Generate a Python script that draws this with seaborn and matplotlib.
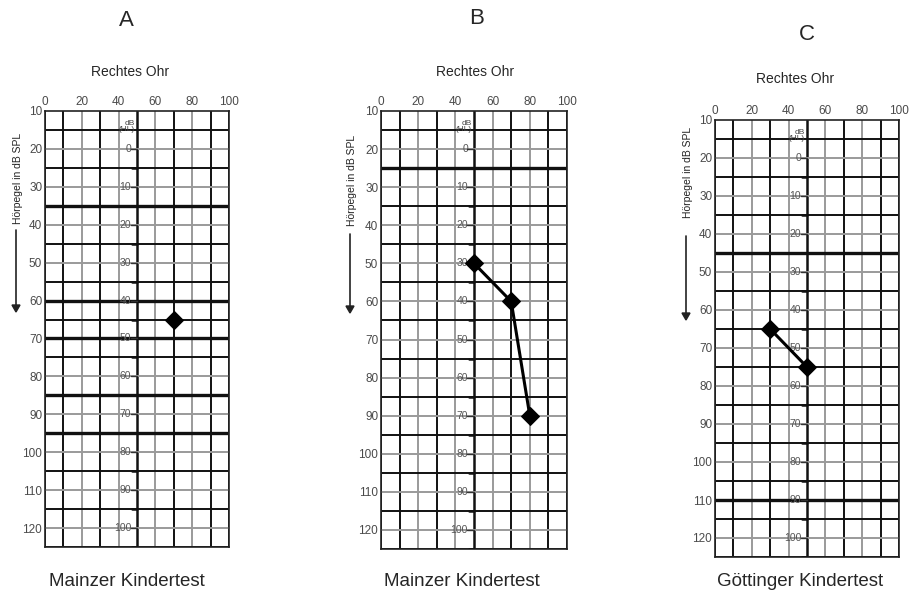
import numpy as np
import pandas as pd
import seaborn as sns
import matplotlib.pyplot as plt

# panels
PANELS = ["A", "B", "C"]
TESTS = ["Mainzer Kindertest", "Mainzer Kindertest", "Göttinger Kindertest"]
HEAR_SIDE = "Rechtes Ohr"
Y_LABEL = "Hörpegel in dB SPL"

# measured points (x = percent correct, y = level in dB SPL)
freq_a = [70]
level_a = [65]
freq_b = [50, 70, 80]
level_b = [50, 60, 90]
freq_c = [30, 50]
level_c = [65, 75]

# heavy horizontal rules printed on each form
thick_a = [35, 60, 70, 85, 95]
thick_b = [25]
thick_c = [45, 110]

x_ticks = [0, 20, 40, 60, 80, 100]
y_ticks = [10, 20, 30, 40, 50, 60, 70, 80, 90, 100, 110, 120]
hl_labels = [0, 10, 20, 30, 40, 50, 60, 70, 80, 90, 100]
HL_OFFSET = 20

df = pd.concat([
    pd.DataFrame({"panel": "A", "x": freq_a, "y": level_a}),
    pd.DataFrame({"panel": "B", "x": freq_b, "y": level_b}),
    pd.DataFrame({"panel": "C", "x": freq_c, "y": level_c}),
])
thick = {"A": thick_a, "B": thick_b, "C": thick_c}

sns.set_theme(style="white")
plt.rcParams["font.family"] = ["Liberation Sans", "DejaVu Sans"]

W, H = 911, 601
fig = plt.figure(figsize=(W / 100, H / 100), dpi=100)

# pixel boxes: left, right, top (y=10), bottom (y=125)
boxes = {"A": (45, 229, 111, 547), "B": (381, 567, 111, 549), "C": (715, 899, 120, 557)}
title_pos = {"A": (126, 20), "B": (477, 18), "C": (807, 35)}
side_pos = {"A": (130, 72), "B": (475, 72), "C": (795, 79)}
test_pos = {"A": (127, 582), "B": (462, 582), "C": (800, 582)}
ylab_pos = {"A": (18, 128, 228, 312), "B": (352, 128, 232, 313), "C": (688, 110, 234, 320)}

TICK_C = "#4a4a4a"
GRAY = "#9a9a9a"

for panel, test in zip(PANELS, TESTS):
    l, r, t, b = boxes[panel]
    ax = fig.add_axes([l / W, 1 - b / H, (r - l) / W, (b - t) / H])
    ax.set_xlim(0, 100)
    ax.set_ylim(125, 10)

    # grid of the form
    for xv in range(0, 101, 10):
        dark = (xv // 10) % 2 == 1 or xv in (0, 100)
        ax.axvline(xv, color="#111111" if dark else GRAY,
                   lw=1.8 if xv == 50 else 1.4, zorder=1)
    for yv in range(15, 126, 5):
        if yv in thick[panel]:
            ax.axhline(yv, color="#111111", lw=2.4, zorder=1)
        elif yv % 10 == 0:
            ax.axhline(yv, color=GRAY, lw=1.4, zorder=1)
        else:
            ax.axhline(yv, color="#111111", lw=1.4, zorder=1)

    # inner dB (HL) scale along x=50
    ax.text(48.8, 14, "dB\n(HL)", fontsize=6, color="#444444",
            ha="right", va="center", linespacing=0.8)
    for hl in hl_labels:
        ax.text(46.8, hl + HL_OFFSET, str(hl), fontsize=7.5, color="#555555",
                ha="right", va="center")
        ax.plot([46.5, 50], [hl + HL_OFFSET] * 2, color="#333333", lw=1.0, zorder=3)
        ax.plot([47.5, 50], [hl + HL_OFFSET + 5] * 2, color="#111111", lw=1.8, zorder=3)

    sub = df[df["panel"] == panel]
    sns.lineplot(data=sub, x="x", y="y", ax=ax, color="black", lw=2.2,
                 marker="D", markersize=9, markeredgecolor="black",
                 sort=False, estimator=None, zorder=5)

    ax.set_xticks(x_ticks)
    ax.set_yticks(y_ticks)
    ax.xaxis.tick_top()
    ax.tick_params(axis="both", length=0, labelsize=8.5, labelcolor=TICK_C, pad=2)
    ax.set_xlabel("")
    ax.set_ylabel("")
    for s in ax.spines.values():
        s.set_color("#222222")
        s.set_linewidth(1.2)
    ax.grid(False)

    tx, ty = title_pos[panel]
    fig.text(tx / W, 1 - ty / H, panel, fontsize=16, ha="center", va="center")
    sx, sy = side_pos[panel]
    fig.text(sx / W, 1 - sy / H, HEAR_SIDE, fontsize=10, ha="center", va="center")
    bx, by = test_pos[panel]
    fig.text(bx / W, 1 - by / H, test, fontsize=13.5, ha="center", va="center")

    lx, ltop, lbot, arrow = ylab_pos[panel]
    fig.text(lx / W, 1 - (ltop + lbot) / 2 / H, Y_LABEL, fontsize=7.5, rotation=90,
             ha="center", va="center", color="#222222")
    fig.add_artist(plt.Line2D([(lx - 2) / W] * 2, [1 - (lbot + 2) / H, 1 - (arrow - 6) / H],
                              color="#222222", lw=1.2))
    fig.patches.append(plt.Polygon(
        [[(lx - 6) / W, 1 - (arrow - 7) / H], [(lx + 2) / W, 1 - (arrow - 7) / H],
         [(lx - 2) / W, 1 - arrow / H]],
        closed=True, color="#222222", transform=fig.transFigure, figure=fig))

fig.savefig("out.png", dpi=100, facecolor="white")
